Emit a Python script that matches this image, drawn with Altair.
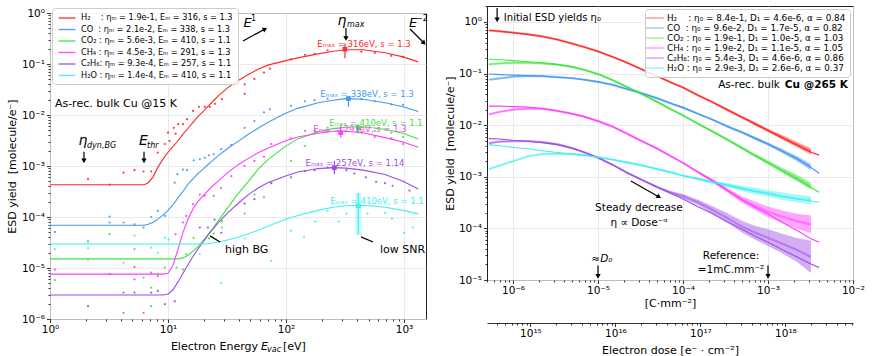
import altair as alt
import pandas as pd

FONT = "DejaVu Sans"
NB = "\u00a0"

SPECIES = ["H2", "CO", "CO2", "CH4", "C2H6", "H2O"]
COLORS = ["#ff2a2a", "#4499f0", "#3ce63c", "#ff3cff", "#9b4ce8", "#3ef0f0"]

LEFT_LABELS = [
    f"H₂{NB*4}: ηₘ = 1.9e-1, Eₘ = 316, s = 1.3",
    f"CO{NB*2}: ηₘ = 2.1e-2, Eₘ = 338, s = 1.3",
    f"CO₂{NB}: ηₘ = 5.6e-3, Eₘ = 410, s = 1.1",
    f"CH₄{NB}: ηₘ = 4.5e-3, Eₘ = 291, s = 1.3",
    "C₂H₆: ηₘ = 9.3e-4, Eₘ = 257, s = 1.1",
    f"H₂O{NB}: ηₘ = 1.4e-4, Eₘ = 410, s = 1.1",
]
RIGHT_LABELS = [
    f"H₂{NB*4}: η₀ = 8.4e-1, D₁ = 4.6e-6, α = 0.84",
    f"CO{NB*2}: η₀ = 9.6e-2, D₁ = 1.7e-5, α = 0.82",
    f"CO₂{NB}: η₀ = 1.9e-1, D₁ = 1.0e-5, α = 1.03",
    f"CH₄{NB}: η₀ = 1.9e-2, D₁ = 1.1e-5, α = 1.05",
    "C₂H₆: η₀ = 5.4e-3, D₁ = 4.6e-6, α = 0.86",
    f"H₂O{NB}: η₀ = 2.9e-3, D₁ = 2.6e-6, α = 0.37",
]

# ---------------- left panel: yield vs energy ----------------
E_GRID = [1, 2, 4, 6.3, 6.8, 7.5, 8.2, 9.1, 10, 11, 12.2, 13.4, 14.8, 16.3, 17.9, 19.8,
          21.8, 24, 26.5, 32, 39, 48, 58, 70, 98, 126, 187, 250, 322, 450, 690, 980, 1320]
FIT_E = {
    "H2": [4.3e-4, 4.3e-4, 4.3e-4, 4.3e-4, 4.7e-4, 6.2e-4, 9.5e-4, 1.38e-3, 1.86e-3, 2.4e-3,
           3.16e-3, 4.2e-3, 5.5e-3, 7.2e-3, 9.3e-3, 1.17e-2, 1.48e-2, 1.86e-2, 2.34e-2, 3.4e-2,
           4.7e-2, 6.2e-2, 7.9e-2, 9.5e-2, 0.115, 0.132, 0.158, 0.178, 0.19, 0.19, 0.166, 0.138, 0.11],
    "CO": [6.9e-5, 6.9e-5, 6.9e-5, 6.9e-5, 7.2e-5, 7.9e-5, 9.1e-5, 1.10e-4, 1.35e-4, 1.74e-4,
           2.4e-4, 3.2e-4, 4.4e-4, 5.6e-4, 7.1e-4, 8.7e-4, 1.07e-3, 1.29e-3, 1.58e-3, 2.2e-3,
           3.0e-3, 4.2e-3, 5.5e-3, 7.1e-3, 1.07e-2, 1.35e-2, 1.74e-2, 1.95e-2, 2.09e-2, 2.04e-2,
           1.74e-2, 1.45e-2, 1.17e-2],
    "CO2": [1.51e-5] * 11 + [1.58e-5, 1.78e-5, 2.14e-5, 2.63e-5, 3.4e-5, 4.5e-5, 6.0e-5, 8.3e-5,
           1.51e-4, 2.8e-4, 5.0e-4, 8.7e-4, 1.32e-3, 2.4e-3, 3.4e-3, 4.7e-3, 5.4e-3, 5.75e-3,
           5.9e-3, 5.25e-3, 4.4e-3, 3.4e-3],
    "CH4": [7.6e-6] * 8 + [7.9e-6, 1.12e-5, 2.4e-5, 5.0e-5, 9.1e-5, 1.45e-4, 2.0e-4, 2.6e-4,
           3.3e-4, 4.1e-4, 5.0e-4, 7.4e-4, 1.05e-3, 1.41e-3, 1.82e-3, 2.24e-3, 3.1e-3, 3.7e-3,
           4.4e-3, 4.8e-3, 4.8e-3, 4.5e-3, 3.6e-3, 2.95e-3, 2.34e-3],
    "C2H6": [2.95e-6] * 8 + [3.1e-6, 3.7e-6, 5.4e-6, 7.9e-6, 1.17e-5, 1.7e-5, 2.34e-5, 3.2e-5,
           4.4e-5, 5.75e-5, 7.6e-5, 1.2e-4, 1.82e-4, 2.75e-4, 3.7e-4, 4.7e-4, 6.3e-4, 7.6e-4,
           8.9e-4, 9.3e-4, 9.1e-4, 8.3e-4, 6.8e-4, 5.0e-4, 3.55e-4],
    "H2O": [2.95e-5] * 16 + [3.0e-5, 3.1e-5, 3.2e-5, 3.55e-5, 4.0e-5, 4.7e-5, 5.5e-5, 6.6e-5,
           8.9e-5, 1.07e-4, 1.35e-4, 1.55e-4, 1.66e-4, 1.7e-4, 1.55e-4, 1.35e-4, 1.15e-4],
}
PTS_E = {
    "H2": [2.1, 3.2, 4.2, 5.2, 6.2, 7.2, 8.2, 9.4, 10, 10.3, 11.2, 11.6, 12.2, 13.4, 14.5, 16.3,
           18.3, 20.5, 22.6, 25, 28.6, 44.6, 44.6, 54, 65, 73, 110, 145, 175, 225, 435, 565, 780, 980],
    "CO": [1.1, 2.1, 3.2, 3.2, 4.2, 5.2, 6.2, 7.2, 8.2, 9.4, 11.4, 12, 13.4, 14.5, 16.5, 18.6,
           20.5, 22.2, 24.4, 28.2, 34.4, 44.6, 54, 65, 73, 110, 145, 175, 225, 435, 565, 780, 980],
    "CO2": [1.1, 2.1, 3.2, 5.2, 6.2, 7.2, 7.2, 8.2, 9.4, 11.8, 13.4, 14.3, 16.5, 22.2, 24.4,
            28.6, 28.6, 44.6, 54, 65, 75, 110, 144, 175, 225, 420, 565, 780, 980],
    "CH4": [1.1, 3.2, 4.2, 5.2, 5.2, 6.2, 7.2, 8.2, 11.6, 13.4, 14.3, 16.3, 18.6, 20.5, 24.4,
            28.2, 34.4, 44.6, 54, 65, 75, 110, 145, 175, 225, 435, 565, 780, 980],
    "C2H6": [2.1, 4.2, 5.2, 7.2, 8.2, 9.4, 11.4, 18.6, 21.8, 24.8, 28.2, 44.6, 54, 75, 110, 145,
             175, 225, 325, 380, 475, 580, 690, 800, 1110],
    "H2O": [1.1, 2.1, 2.1, 4.2, 5.2, 7.2, 8.2, 9.4, 10.1, 18.6, 28.2, 44.6, 75, 110, 142, 177,
            225, 280, 325, 490, 690, 790, 1000, 1190],
}
PTS_Y = {
    "H2": [5.6e-4, 4.3e-4, 7.4e-4, 8.3e-4, 7.8e-4, 7.8e-4, 1.82e-3, 2.7e-3, 4.5e-3, 3.1e-3, 5.6e-3,
           4.3e-3, 6.6e-3, 6.6e-3, 8.3e-3, 1.2e-2, 1.45e-2, 1.45e-2, 1.45e-2, 1.66e-2, 2.04e-2,
           2.6e-2, 4.0e-2, 5.1e-2, 6.8e-2, 8.1e-2, 0.123, 0.151, 0.158, 0.186, 0.174, 0.166, 0.145, 0.138],
    "CO": [5.1e-5, 3.3e-5, 1.02e-4, 7.8e-5, 7.8e-5, 7.2e-5, 6.2e-5, 1.0e-4, 1.32e-4, 1.05e-4, 4.7e-4,
           6.9e-4, 8.5e-4, 8.3e-4, 1.29e-3, 1.35e-3, 1.45e-3, 1.62e-3, 1.7e-3, 2.14e-3, 2.6e-3, 5.6e-3,
           7.6e-3, 1.12e-2, 1.29e-2, 1.51e-2, 1.86e-2, 1.95e-2, 2.09e-2, 2.04e-2, 1.86e-2, 1.62e-2, 1.58e-2],
    "CO2": [5.8e-6, 1.48e-5, 4.6e-5, 2.34e-5, 6.5e-6, 4.1e-6, 1.78e-6, 7.8e-6, 1.02e-5, 1.02e-5,
            9.3e-6, 1.86e-5, 3.9e-5, 3.8e-5, 4.7e-5, 6.2e-5, 8.3e-5, 1.17e-4, 2.75e-4, 2.45e-4,
            4.7e-4, 1.26e-3, 2.45e-3, 4.5e-3, 5.6e-3, 5.6e-3, 4.9e-3, 4.5e-3, 3.7e-3],
    "CH4": [9.3e-6, 7.6e-6, 1.32e-6, 1.05e-5, 6.0e-6, 1.32e-6, 8.1e-6, 6.9e-6, 4.6e-5, 7.8e-5,
            1.05e-4, 1.78e-4, 2.75e-4, 2.6e-4, 2.6e-4, 3.7e-4, 6.3e-4, 1.0e-3, 1.26e-3, 1.51e-3,
            2.7e-3, 3.5e-3, 4.9e-3, 5.0e-3, 4.7e-3, 4.5e-3, 3.7e-3, 3.5e-3, 2.7e-3],
    "C2H6": [1.78e-6, 3.3e-6, 3.3e-6, 3.3e-6, 3.55e-6, 1.95e-6, 2.24e-6, 6.2e-5, 6.2e-5, 8.9e-5,
             4.9e-5, 1.82e-4, 2.24e-4, 4.6e-4, 6.0e-4, 7.9e-4, 8.3e-4, 9.3e-4, 8.3e-4, 7.1e-4,
             6.0e-4, 4.9e-4, 4.6e-4, 4.1e-4, 3.3e-4],
    "H2O": [2.34e-5, 2.45e-5, 3.4e-5, 1.26e-5, 4.3e-5, 2.5e-5, 2.0e-5, 3.9e-5, 3.6e-5, 1.86e-5,
            5.1e-6, 3.8e-5, 1.38e-5, 5.4e-5, 4.1e-5, 8.1e-5, 1.32e-4, 8.1e-5, 1.17e-4, 1.17e-4,
            1.2e-4, 9.3e-5, 4.9e-5, 6.2e-5],
}
EMAX_E = [316, 338, 410, 291, 257, 410]
EMAX_Y = [0.195, 0.021, 5.6e-3, 4.5e-3, 9.3e-4, 1.65e-4]
ERR_LO = [0.129, 0.0145, 4.3e-3, 3.6e-3, 6.9e-4, 4.5e-5]
ERR_HI = [0.251, 0.0234, 6.6e-3, 6.5e-3, 1.26e-3, 2.95e-4]
EMAX_TEXT = ["Eₘₐₓ = 316eV, s = 1.3", "Eₘₐₓ = 338eV, s = 1.3", "Eₘₐₓ = 410eV, s = 1.1",
             "Eₘₐₓ = 291eV, s = 1.3", "Eₘₐₓ = 257eV, s = 1.14", "Eₘₐₓ = 410eV, s = 1.1"]
EMAX_TEXT_E = [458, 486, 579, 424, 384, 590]
EMAX_TEXT_Y = [0.247, 0.0258, 6.97e-3, 5.31e-3, 1.15e-3, 2.06e-4]

# ---------------- right panel: yield vs dose ----------------
DOSE_GRID = [5.2e-7, 7e-7, 1e-6, 1.5e-6, 2.2e-6, 3.3e-6, 5e-6, 7e-6, 1e-5, 1.5e-5, 2.2e-5, 3.3e-5,
             5e-5, 7e-5, 1e-4, 1.5e-4, 2.2e-4, 3.3e-4, 5e-4, 7e-4, 1e-3, 1.5e-3, 2.2e-3, 3.2e-3, 4e-3]
FIT_D = {
    "H2": [0.69, 0.66, 0.62, 0.575, 0.525, 0.457, 0.38, 0.324, 0.269, 0.209, 0.162, 0.12, 0.089,
           0.069, 0.0537, 0.038, 0.0282, 0.02, 0.0141, 0.0107, 7.9e-3, 5.6e-3, 4.1e-3, 3.0e-3, 2.63e-3],
    "CO": [0.098, 0.0955, 0.0933, 0.0912, 0.0891, 0.0851, 0.0813, 0.0759, 0.0692, 0.0603, 0.0501,
           0.0417, 0.0331, 0.0269, 0.0219, 0.0166, 0.0129, 9.5e-3, 7.2e-3, 5.6e-3, 4.3e-3, 3.1e-3,
           2.24e-3, 1.51e-3, 1.17e-3],
    "CO2": [0.19, 0.186, 0.178, 0.17, 0.162, 0.151, 0.135, 0.117, 0.0977, 0.0741, 0.055, 0.0398,
            0.0282, 0.0209, 0.0155, 0.0107, 7.6e-3, 5.25e-3, 3.55e-3, 2.57e-3, 1.86e-3, 1.26e-3,
            8.9e-4, 6.2e-4, 5.0e-4],
    "CH4": [0.0234, 0.0234, 0.0229, 0.0224, 0.0209, 0.019, 0.0166, 0.0145, 0.012, 9.3e-3, 6.8e-3,
            4.9e-3, 3.5e-3, 2.57e-3, 1.86e-3, 1.23e-3, 8.5e-4, 5.5e-4, 3.55e-4, 2.57e-4, 1.9e-4,
            1.29e-4, 9.1e-5, 6.3e-5, 5.4e-5],
    "C2H6": [5.5e-3, 5.4e-3, 5.1e-3, 4.9e-3, 4.6e-3, 4.2e-3, 3.55e-3, 2.95e-3, 2.34e-3, 1.7e-3,
             1.2e-3, 8.7e-4, 6.3e-4, 4.9e-4, 3.7e-4, 2.63e-4, 1.95e-4, 1.35e-4, 9.5e-5, 7.1e-5,
             5.4e-5, 3.8e-5, 2.8e-5, 2.04e-5, 1.74e-5],
    "H2O": [4.2e-3, 4.0e-3, 3.7e-3, 3.5e-3, 3.2e-3, 2.95e-3, 2.75e-3, 2.63e-3, 2.4e-3, 2.14e-3,
            1.9e-3, 1.66e-3, 1.41e-3, 1.23e-3, 1.05e-3, 9.1e-4, 7.9e-4, 6.9e-4, 5.9e-4, 5.25e-4,
            4.7e-4, 4.1e-4, 3.7e-4, 3.4e-4, 3.2e-4],
}
DATA_D = {
    "H2": [0.69, 0.66, 0.62, 0.575, 0.525, 0.457, 0.38, 0.324, 0.269, 0.209, 0.162, 0.12, 0.089,
           0.069, 0.0537, 0.038, 0.0282, 0.02, 0.0141, 0.0107, 7.9e-3, 5.7e-3, 4.2e-3, 3.1e-3],
    "CO": [0.076, 0.081, 0.087, 0.089, 0.0891, 0.0851, 0.0813, 0.0759, 0.0692, 0.0603, 0.0501,
           0.0417, 0.0331, 0.0269, 0.0219, 0.0166, 0.0129, 9.5e-3, 7.2e-3, 5.6e-3, 4.3e-3, 3.1e-3,
           2.24e-3, 1.55e-3],
    "CO2": [0.151, 0.158, 0.162, 0.162, 0.158, 0.149, 0.135, 0.117, 0.0977, 0.0741, 0.055, 0.0398,
            0.0282, 0.0209, 0.0155, 0.0107, 7.6e-3, 5.3e-3, 3.6e-3, 2.6e-3, 1.9e-3, 1.32e-3, 9.5e-4, 6.6e-4],
    "CH4": [0.0162, 0.0182, 0.02, 0.0209, 0.0209, 0.019, 0.0166, 0.0145, 0.012, 9.3e-3, 6.8e-3,
            4.9e-3, 3.5e-3, 2.57e-3, 1.86e-3, 1.23e-3, 8.5e-4, 5.5e-4, 3.55e-4, 2.75e-4, 2.1e-4,
            1.66e-4, 1.38e-4, 1.2e-4],
    "C2H6": [4.5e-3, 4.8e-3, 4.9e-3, 4.9e-3, 4.7e-3, 4.3e-3, 3.6e-3, 2.95e-3, 2.34e-3, 1.7e-3,
             1.2e-3, 8.7e-4, 6.3e-4, 5.0e-4, 4.2e-4, 3.2e-4, 2.3e-4, 1.6e-4, 1.07e-4, 8.3e-5,
             6.6e-5, 5.0e-5, 3.8e-5, 2.8e-5],
    "H2O": [1.41e-3, 1.66e-3, 2.0e-3, 2.5e-3, 2.75e-3, 2.8e-3, 2.75e-3, 2.63e-3, 2.4e-3, 2.14e-3,
            1.9e-3, 1.66e-3, 1.41e-3, 1.23e-3, 1.05e-3, 9.1e-4, 7.9e-4, 6.9e-4, 5.9e-4, 5.3e-4,
            4.8e-4, 4.2e-4, 3.8e-4, 3.5e-4],
}
# half-width of the noisy measured band, in decades
NOISE_D = {
    "H2": [0] * 17 + [0.01, 0.01, 0.02, 0.02, 0.03, 0.04, 0.05],
    "CO": [0] * 17 + [0.01, 0.01, 0.02, 0.02, 0.03, 0.04, 0.05],
    "CO2": [0] * 17 + [0.01, 0.02, 0.02, 0.03, 0.04, 0.05, 0.06],
    "CH4": [0] * 15 + [0.01, 0.02, 0.03, 0.05, 0.07, 0.09, 0.11, 0.13, 0.16],
    "C2H6": [0] * 12 + [0.01, 0.02, 0.03, 0.04, 0.06, 0.08, 0.1, 0.12, 0.15, 0.18, 0.22, 0.3],
    "H2O": [0] * 15 + [0.01, 0.02, 0.03, 0.04, 0.05, 0.05, 0.06, 0.06, 0.07],
}
C_PER_MM2_TO_E_PER_CM2 = 6.2415e20

# ---------------- axes helpers ----------------
SUP = str.maketrans("-0123456789", "⁻⁰¹²³⁴⁵⁶⁷⁸⁹")
TEST = "abs(log(datum.value)/LN10 - round(log(datum.value)/LN10)) < 0.01"


def tick_values(lo, hi, dmin, dmax):
    out = []
    for k in range(lo, hi + 1):
        for m in range(1, 10):
            v = float(f"{m}e{k}")
            if dmin * 0.999 <= v <= dmax * 1.001:
                out.append(v)
    return out


def label_expr(lo, hi):
    s = "''"
    for k in range(lo, hi + 1):
        s = f"(({TEST}) && round(log(datum.value)/LN10) == {k}) ? '10{str(k).translate(SUP)}' : " + s
    return s


def log_axis(lo, hi, dmin, dmax, title, **kw):
    return alt.Axis(
        values=tick_values(lo, hi, dmin, dmax), labelExpr=label_expr(lo, hi), title=title,
        grid=True, gridColor="#e4e4e4", gridWidth=0.8,
        gridOpacity={"condition": {"test": TEST, "value": 1}, "value": 0},
        tickSize={"condition": {"test": TEST, "value": 3.5}, "value": 2},
        tickColor="#000", tickWidth=0.8, domain=False, labelFlush=False, labelOverlap=False,
        labelFont=FONT, labelFontSize=10.5, labelColor="#000", labelPadding=2,
        titleFont=FONT, titleFontSize=11, titleFontWeight="normal", titleColor="#000", **kw)


L_XDOM = [1, 1535]
L_YDOM = [1e-6, 1]
R_XDOM = [4.94e-7, 1e-2]
R_YDOM = [1e-5, 2.04]
YTITLE = f"ESD yield{NB}{NB}[molecule/e⁻]"

LX_AXIS = log_axis(0, 3, *L_XDOM, None)
LY_AXIS = log_axis(-6, 0, *L_YDOM, YTITLE, titlePadding=4)
RX_AXIS = log_axis(-7, -2, *R_XDOM, "[C·mm⁻²]", titlePadding=1)
RY_AXIS = log_axis(-5, 0, *R_YDOM, YTITLE, titlePadding=3)


def lx(field="E"):
    return alt.X(f"{field}:Q", scale=alt.Scale(type="log", domain=L_XDOM, nice=False), axis=LX_AXIS)


def ly(field="Y"):
    return alt.Y(f"{field}:Q", scale=alt.Scale(type="log", domain=L_YDOM, nice=False), axis=LY_AXIS)


def rx(field="D"):
    return alt.X(f"{field}:Q", scale=alt.Scale(type="log", domain=R_XDOM, nice=False), axis=RX_AXIS)


def ry(field="Y"):
    return alt.Y(f"{field}:Q", scale=alt.Scale(type="log", domain=R_YDOM, nice=False), axis=RY_AXIS)


col_none = alt.Color("col:N", scale=None)

# ---------------- left panel build ----------------
rows = []
for sp, lab in zip(SPECIES, LEFT_LABELS):
    for e, y in zip(E_GRID, FIT_E[sp]):
        rows.append({"E": e, "Y": y, "label": lab})
left_fit = pd.DataFrame(rows)

rows = []
for sp, c in zip(SPECIES, COLORS):
    for e, y in zip(PTS_E[sp], PTS_Y[sp]):
        rows.append({"E": e, "Y": y, "col": c})
left_pts = pd.DataFrame(rows)

emax = pd.DataFrame({"E": EMAX_E, "Y": EMAX_Y, "lo": ERR_LO, "hi": ERR_HI, "col": COLORS,
                     "t": EMAX_TEXT, "tE": EMAX_TEXT_E, "tY": EMAX_TEXT_Y})

legend_left = alt.Legend(
    title=None, orient="top-left", offset=2, symbolType="M-2.1,0H2.1", symbolSize=64,
    symbolStrokeWidth=1.4, symbolOffset=5, labelOffset=9, labelFont=FONT, labelFontSize=8.2,
    labelColor="#000", labelLimit=400, rowPadding=2.5, padding=5,
    fillColor="rgba(255,255,255,0.85)", strokeColor="#cccccc", cornerRadius=3)

L = []
L.append(alt.Chart(left_fit).mark_line(strokeWidth=1.1).encode(
    x=lx(), y=ly(),
    color=alt.Color("label:N", scale=alt.Scale(domain=LEFT_LABELS, range=COLORS), legend=legend_left,
                    sort=LEFT_LABELS)))
L.append(alt.Chart(left_pts).mark_circle(size=5, opacity=0.9).encode(x=lx(), y=ly(), color=col_none))
L.append(alt.Chart(emax.iloc[[5]]).mark_rule(strokeWidth=6, opacity=0.3).encode(
    x=lx(), y=ly("lo"), y2="hi", color=col_none))
L.append(alt.Chart(emax).mark_rule(strokeWidth=1.2).encode(x=lx(), y=ly("lo"), y2="hi", color=col_none))
L.append(alt.Chart(emax).mark_square(size=22, opacity=1).encode(x=lx(), y=ly(), color=col_none))
L.append(alt.Chart(emax).mark_text(font=FONT, fontSize=8.5).encode(
    x=lx("tE"), y=ly("tY"), text="t:N", color=col_none))


def texts(df, chart_x, chart_y, **mk):
    return alt.Chart(pd.DataFrame(df)).mark_text(font=FONT, color="#000", **mk).encode(
        x=chart_x("x"), y=chart_y("y"), text="t:N")


def arrows(df, chart_x, chart_y):
    d = pd.DataFrame(df)
    rule = alt.Chart(d).mark_rule(color="#000", strokeWidth=1.2).encode(
        x=chart_x("x1"), y=chart_y("y1"), x2="x2", y2="y2")
    head = alt.Chart(d).mark_point(shape="triangle-up", filled=True, color="#000", size=28,
                                   opacity=1).encode(
        x=chart_x("x2"), y=chart_y("y2"), angle=alt.Angle("ang:Q", scale=None))
    return [rule, head]


# big greek / E letters (italic)
L.append(texts({"x": [1.9, 6.2, 298], "y": [10 ** -2.51, 10 ** -2.51, 10 ** -0.157],
                "t": ["η", "E", "η"]}, lx, ly, fontSize=14, fontStyle="italic"))
L.append(texts({"x": [2.06, 6.64, 329], "y": [10 ** -2.6, 10 ** -2.6, 10 ** -0.235],
                "t": ["dyn,BG", "thr", "max"]}, lx, ly, fontSize=8, fontStyle="italic", align="left"))
L.append(texts({"x": [47.2, 1192], "y": [10 ** -0.2, 10 ** -0.2], "t": ["E", "E"]}, lx, ly,
               fontSize=13, fontStyle="italic"))
L.append(texts({"x": [50.5, 1264], "y": [10 ** -0.11, 10 ** -0.11], "t": ["1", "−2"]}, lx, ly,
               fontSize=8, align="left"))
L.append(texts({"x": [1.1], "y": [10 ** -1.784], "t": ["As-rec. bulk Cu @15 K"]}, lx, ly,
               fontSize=11, align="left"))
L.append(texts({"x": [30.4, 626], "y": [10 ** -4.65, 10 ** -4.65], "t": ["high BG", "low SNR"]},
               lx, ly, fontSize=11, align="left"))
L += arrows({"x1": [1.94, 6.26, 322, 43.2, 1125],
             "y1": [10 ** -2.72, 10 ** -2.72, 10 ** -0.294, 0.282, 0.486],
             "x2": [1.94, 6.26, 322, 66.4, 1476],
             "y2": [10 ** -2.9, 10 ** -2.9, 10 ** -0.5, 0.486, 0.258],
             "ang": [180, 180, 180, 62, 137]}, lx, ly)
L.append(alt.Chart(pd.DataFrame({"x1": [22.7, 432], "y1": [10 ** -4.37, 10 ** -4.39],
                                 "x2": [27.6, 546], "y2": [10 ** -4.49, 10 ** -4.49]}))
         .mark_rule(color="#000", strokeWidth=1.2).encode(x=lx("x1"), y=ly("y1"), x2="x2", y2="y2"))
# x-axis title with subscript
L.append(alt.Chart(pd.DataFrame({"x": [57.9], "t": ["Electron Energy"]})).mark_text(
    font=FONT, fontSize=11, align="right", color="#000").encode(x=lx("x"), y=alt.value(334), text="t:N"))
L.append(alt.Chart(pd.DataFrame({"x": [61.4], "t": ["E"]})).mark_text(
    font=FONT, fontSize=11, align="left", fontStyle="italic", color="#000").encode(
    x=lx("x"), y=alt.value(334), text="t:N"))
L.append(alt.Chart(pd.DataFrame({"x": [69], "t": ["vac"]})).mark_text(
    font=FONT, fontSize=8, align="left", fontStyle="italic", color="#000").encode(
    x=lx("x"), y=alt.value(337), text="t:N"))
L.append(alt.Chart(pd.DataFrame({"x": [94.3], "t": ["[eV]"]})).mark_text(
    font=FONT, fontSize=11, align="left", color="#000").encode(x=lx("x"), y=alt.value(334), text="t:N"))

left_plot = alt.layer(*L).properties(width=376, height=306)
spacer = alt.Chart(pd.DataFrame({"a": [0]})).mark_point(opacity=0, size=0, strokeWidth=0).encode(
    x=alt.value(5), y=alt.value(3.5)).properties(
    width=376, height=7, view=alt.ViewBackground(stroke="transparent"))
left = alt.vconcat(spacer, left_plot, spacing=0, bounds="flush").resolve_scale(
    x="independent", y="independent")

# ---------------- right panel build ----------------
rows = []
for sp, lab in zip(SPECIES, RIGHT_LABELS):
    for d, y in zip(DOSE_GRID, FIT_D[sp]):
        rows.append({"D": d, "Y": y, "label": lab})
right_fit = pd.DataFrame(rows)
rows = []
for sp, c in zip(SPECIES, COLORS):
    for d, y, w in zip(DOSE_GRID, DATA_D[sp], NOISE_D[sp]):
        rows.append({"D": d, "Y": y, "lo": y / 10 ** (w + 0.012), "hi": y * 10 ** (w + 0.012),
                     "col": c, "sp": sp})
right_data = pd.DataFrame(rows)

legend_right = alt.Legend(
    title=None, orient="top-right", offset=3, symbolType="M-2.2,0H2.2", symbolSize=64,
    symbolStrokeWidth=1.6, symbolOffset=1, labelOffset=7, labelFont=FONT, labelFontSize=8.8,
    labelColor="#000", labelLimit=400, rowPadding=-1.2, padding=4,
    fillColor="rgba(255,255,255,0.85)", strokeColor="#cccccc", cornerRadius=3)

R = []
R.append(alt.Chart(right_data).mark_area(opacity=0.45).encode(
    x=rx(), y=ry("lo"), y2="hi", color=col_none, detail="sp:N"))
R.append(alt.Chart(right_data).mark_line(strokeWidth=2.2, opacity=0.5).encode(
    x=rx(), y=ry(), color=col_none, detail="sp:N"))
R.append(alt.Chart(right_fit).mark_line(strokeWidth=1.1).encode(
    x=rx(), y=ry(),
    color=alt.Color("label:N", scale=alt.Scale(domain=RIGHT_LABELS, range=COLORS), legend=legend_right,
                    sort=RIGHT_LABELS)))
R.append(texts({"x": [7.8e-7], "y": [1.2], "t": ["Initial ESD yields η₀"]}, rx, ry,
               fontSize=10, align="left"))
R.append(texts({"x": [1.38e-3], "y": [10 ** -1.221], "t": ["As-rec. bulk"]}, rx, ry,
               fontSize=10.5, align="right"))
R.append(texts({"x": [8.7e-3], "y": [10 ** -1.221], "t": ["Cu @265 K"]}, rx, ry,
               fontSize=10.5, align="right", fontWeight="bold"))
R.append(texts({"x": [3.03e-5, 3.03e-5, 3.67e-4, 3.67e-4],
                "y": [10 ** -3.605, 10 ** -3.9, 10 ** -4.535, 10 ** -4.806],
                "t": ["Steady decrease", "η ∝ Dose⁻ᵅ", "Reference:", "=1mC.mm⁻²"]}, rx, ry,
               fontSize=10.5))
R.append(texts({"x": [1.11e-5], "y": [10 ** -4.593], "t": ["≈D₀"]}, rx, ry,
               fontSize=10.5, fontStyle="italic"))
R += arrows({"x1": [6.5e-7, 1e-5, 1e-3, 2.44e-5],
             "y1": [1.87, 10 ** -4.72, 10 ** -4.72, 10 ** -3.081],
             "x2": [6.5e-7, 1e-5, 1e-3, 5.22e-5],
             "y2": [1.1, 10 ** -4.93, 10 ** -4.93, 10 ** -3.391],
             "ang": [180, 180, 180, 120]}, rx, ry)

right_main = alt.layer(*R)
SEC_DOM = [R_XDOM[0] * C_PER_MM2_TO_E_PER_CM2, R_XDOM[1] * C_PER_MM2_TO_E_PER_CM2]
sec_axis = alt.Axis(
    values=tick_values(14, 18, *SEC_DOM), labelExpr=label_expr(14, 18),
    title="Electron dose [e⁻ · cm⁻²]", orient="bottom", offset=43, grid=False,
    tickSize={"condition": {"test": TEST, "value": 3.5}, "value": 2},
    tickColor="#000", tickWidth=0.8, domain=True, domainColor="#000", domainWidth=0.8,
    labelFlush=False, labelOverlap=False, labelFont=FONT, labelFontSize=10.5, labelColor="#000",
    labelPadding=2, titleFont=FONT, titleFontSize=11, titleFontWeight="normal", titleColor="#000",
    titlePadding=5)
sec = alt.Chart(pd.DataFrame({"Dose_e": SEC_DOM})).mark_point(opacity=0, size=1).encode(
    x=alt.X("Dose_e:Q", scale=alt.Scale(type="log", domain=SEC_DOM, nice=False), axis=sec_axis))
right = alt.layer(right_main, sec).resolve_scale(x="independent").properties(width=366, height=274)

chart = alt.hconcat(left, right, spacing=14).resolve_scale(
    x="independent", y="independent", color="independent").resolve_legend(
    color="independent").configure(
    font=FONT, padding={"left": 5, "top": 0, "right": 5, "bottom": 5}).configure_view(
    stroke="#222", strokeWidth=1)

chart.save("out.html", embed_options={"renderer": "svg", "actions": False})
